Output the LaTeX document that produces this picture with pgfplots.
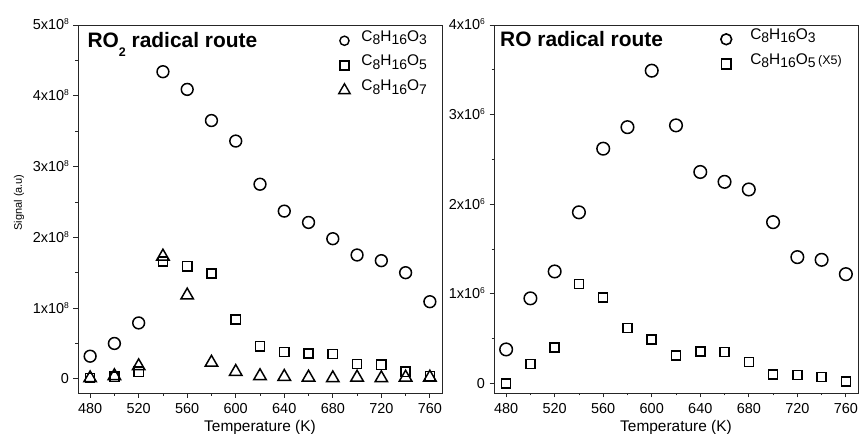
\documentclass[border=0pt]{standalone}
\usepackage{fontspec}
\setmainfont{Liberation Sans}
\usepackage{pgfplots}
\usepackage{pgfplotstable}
\pgfplotsset{compat=1.18}
\newcommand{\fs}[1]{\fontsize{#1}{#1}\selectfont}
\newcommand{\sub}[1]{\raisebox{-0.22em}{\fs{14}#1}}
\newcommand{\sci}[2]{#1x10\raisebox{5bp}{\fs{8.5}#2}}

\pgfplotstableread{
T c3 c5 c7
480 0.32e8 0.01e8 0.01e8
500 0.50e8 0.03e8 0.04e8
520 0.79e8 0.10e8 0.18e8
540 4.34e8 1.66e8 1.73e8
560 4.09e8 1.59e8 1.18e8
580 3.65e8 1.49e8 0.23e8
600 3.36e8 0.84e8 0.10e8
620 2.75e8 0.46e8 0.04e8
640 2.37e8 0.38e8 0.03e8
660 2.21e8 0.36e8 0.02e8
680 1.98e8 0.35e8 0.01e8
700 1.75e8 0.21e8 0.02e8
720 1.67e8 0.20e8 0.01e8
740 1.50e8 0.10e8 0.02e8
760 1.09e8 0.04e8 0.02e8
}\roTwo

\pgfplotstableread{
T c3 c5
480 0.38e6 0.00e6
500 0.95e6 0.22e6
520 1.25e6 0.40e6
540 1.91e6 1.11e6
560 2.62e6 0.96e6
580 2.86e6 0.62e6
600 3.49e6 0.49e6
620 2.88e6 0.31e6
640 2.36e6 0.355e6
660 2.25e6 0.35e6
680 2.165e6 0.24e6
700 1.80e6 0.10e6
720 1.41e6 0.095e6
740 1.38e6 0.07e6
760 1.22e6 0.02e6
}\roOne

\pgfplotsset{
  myaxis/.style={
    scale only axis, width=364bp, height=368bp,
    xmin=470, xmax=770,
    xtick={480,520,...,760}, minor x tick num=1,
    scaled y ticks=false,
    axis line style={line width=0.9bp, black!85},
    tick style={line width=0.8bp, black!85},
    major tick length=4.5bp, minor tick length=2.5bp,
    tick align=outside, xtick pos=bottom, ytick pos=left,
    /pgf/number format/assume math mode=true,
    /pgf/number format/1000 sep={},
    ticklabel style={font=\fs{14.5}},
    xticklabel style={anchor=base, inner sep=0pt, yshift=-15.7bp},
    yticklabel style={anchor=base east, inner sep=0pt, xshift=-4.5bp, yshift=-5bp},
    xlabel={Temperature (K)},
    xlabel style={font=\fs{15.5}, at={(axis description cs:0.5,0)}, anchor=center, yshift=-34.5bp},
    legend cell align=left,
    legend image code/.code={\path[draw=none,fill=none] (0bp,-6bp) rectangle (12bp,6bp); \draw[##1] plot coordinates {(6bp,0bp)};},
  },
}

\begin{document}
\begin{tikzpicture}
\useasboundingbox (0,0) rectangle (860bp,434bp);
\begin{axis}[myaxis, at={(78bp,41bp)}, anchor=south west,
  ymin=-0.2e8, ymax=5e8,
  ytick={0,1e8,2e8,3e8,4e8,5e8}, minor y tick num=1,
  yticklabels={0,\sci{1}{8},\sci{2}{8},\sci{3}{8},\sci{4}{8},\sci{5}{8}},
  ylabel={Signal (a.u)},
  ylabel style={font=\fs{11}, at={(axis description cs:-0.162,0.518)}, anchor=center},
  legend style={at={(rel axis cs:0.715,0.991)}, anchor=north west, draw=none, fill=none,
    inner sep=0pt, font=\fs{15.5}, row sep=0.3bp,
    nodes={inner sep=0pt, text height=12.5bp, text depth=12bp}, column sep=11bp},
  legend image post style={mark size=4.6bp, line width=1.4bp},
]
\addplot[only marks, mark=o, mark size=5.9bp, line width=1.5bp, black] table[x=T,y=c3] {\roTwo};
\addlegendentry{C\sub{8}H\sub{16}O\sub{3}}
\addplot[only marks, mark=square, mark size=4.6bp, line width=1.5bp, black, legend image post style={mark size=4.4bp}] table[x=T,y=c5] {\roTwo};
\addlegendentry{C\sub{8}H\sub{16}O\sub{5}}
\addplot[only marks, mark=triangle, mark size=7.2bp, line width=1.5bp, black, legend image post style={mark size=6.6bp}] table[x=T,y=c7] {\roTwo};
\addlegendentry{C\sub{8}H\sub{16}O\sub{7}}
\node[anchor=base west, font=\fs{21}\bfseries, inner sep=0pt] at (rel axis cs:0.0256,0.938) {RO\raisebox{-9bp}{\fs{12.5}2} radical route};
\node[anchor=center, font=\fs{20}, inner sep=0pt] at (rel axis cs:-0.056,-0.057) {(a)};
\end{axis}

\begin{axis}[myaxis, at={(494bp,41bp)}, anchor=south west,
  ymin=-0.106e6, ymax=4e6,
  ytick={0,1e6,2e6,3e6,4e6}, minor y tick num=1,
  yticklabels={0,\sci{1}{6},\sci{2}{6},\sci{3}{6},\sci{4}{6}},
  legend style={at={(rel axis cs:0.621,0.995)}, anchor=north west, draw=none, fill=none,
    inner sep=0pt, font=\fs{15.5}, row sep=0.3bp,
    nodes={inner sep=0pt, text height=12.5bp, text depth=12bp}, column sep=18bp},
  legend image post style={mark size=5.4bp, line width=1.6bp},
]
\addplot[only marks, mark=o, mark size=6.3bp, line width=1.5bp, black] table[x=T,y=c3] {\roOne};
\addlegendentry{C\sub{8}H\sub{16}O\sub{3}}
\addplot[only marks, mark=square, mark size=4.5bp, line width=1.5bp, black, legend image post style={mark size=4.9bp}] table[x=T,y=c5] {\roOne};
\addlegendentry{C\sub{8}H\sub{16}O\sub{5}\,{\fs{12.5}(X5)}}
\node[anchor=base west, font=\fs{21}\bfseries, inner sep=0pt] at (rel axis cs:0.0165,0.941) {RO radical route};
\node[anchor=center, font=\fs{20}, inner sep=0pt] at (rel axis cs:-0.045,-0.057) {(b)};
\end{axis}
\end{tikzpicture}
\end{document}
